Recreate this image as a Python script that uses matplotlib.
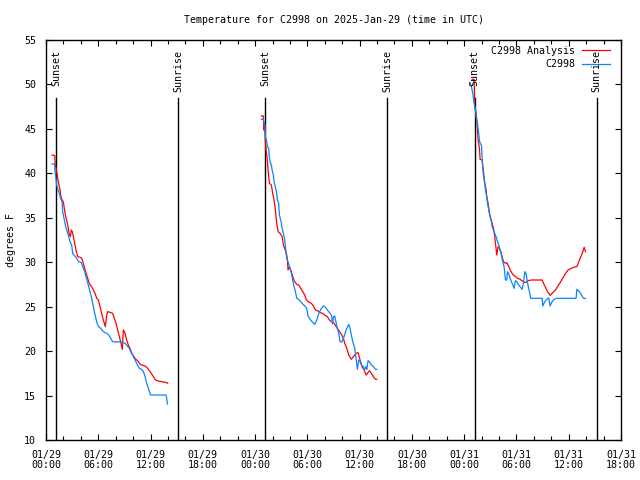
import matplotlib
matplotlib.use("Agg")
import matplotlib.pyplot as plt
from matplotlib.ticker import MultipleLocator

# x values: hours since 2025-01-29 00:00 UTC
title = "Temperature for C2998 on 2025-Jan-29 (time in UTC)"
ylabel = "degrees F"
series_names = ["C2998 Analysis", "C2998"]
series_colors = ["#ff0000", "#0a84ff"]

tick_hours = [0, 6, 12, 18, 24, 30, 36, 42, 48, 54, 60, 66]
tick_labels = ["01/29\n00:00", "01/29\n06:00", "01/29\n12:00", "01/29\n18:00",
               "01/30\n00:00", "01/30\n06:00", "01/30\n12:00", "01/30\n18:00",
               "01/31\n00:00", "01/31\n06:00", "01/31\n12:00", "01/31\n18:00"]

sun_hours = [1.15, 15.15, 25.15, 39.15, 49.2, 63.2]
sun_labels = ["Sunset", "Sunrise", "Sunset", "Sunrise", "Sunset", "Sunrise"]

# --- segment 1 (night of 01/29) ---
an1_h = [0.69, 1.0, 1.07, 1.22, 1.38, 1.49, 1.61, 1.68, 1.84, 1.99, 2.10, 2.22, 2.37, 2.53, 2.64, 2.79,
         2.91, 3.02, 3.14, 3.29, 3.44, 3.64, 3.90, 4.10, 4.29, 4.48, 4.67, 4.90, 5.05, 5.24, 5.43, 5.63,
         5.82, 6.01, 6.20, 6.39, 6.58, 6.81, 6.97, 7.08, 7.35, 7.65, 7.84, 8.04, 8.23, 8.42, 8.61, 8.76,
         8.88, 9.07, 9.26, 9.45, 9.64, 9.84, 10.03, 10.22, 10.41, 10.60, 10.79, 10.98, 11.37, 11.56,
         11.75, 11.94, 12.13, 12.32, 12.51, 12.71, 13.09, 13.47, 13.85, 13.97]
an1_t = [42.06, 42.0, 40.94, 40.19, 39.25, 38.69, 38.12, 37.56, 37.0, 36.81, 36.06, 35.31, 34.75, 34.0,
         33.25, 32.88, 33.63, 33.44, 32.88, 32.13, 31.38, 30.63, 30.55, 30.44, 29.88, 29.13, 28.56,
         27.81, 27.44, 27.25, 26.88, 26.5, 25.94, 25.75, 25.0, 24.25, 23.5, 22.75, 24.06, 24.44, 24.36,
         24.25, 23.69, 23.13, 22.38, 21.63, 20.88, 20.2, 22.38, 22.0, 21.25, 20.69, 20.31, 19.75, 19.45,
         19.19, 19.0, 18.81, 18.55, 18.44, 18.33, 18.18, 17.95, 17.69, 17.43, 17.13, 16.83, 16.68, 16.6,
         16.53, 16.45, 16.38]
ob1_h = [0.69, 1.0, 1.03, 1.15, 1.22, 1.38, 1.53, 1.68, 1.84, 1.91, 2.07, 2.22, 2.37, 2.56, 2.75, 2.95,
         3.06, 3.21, 3.37, 3.52, 3.75, 4.06, 4.21, 4.44, 4.59, 4.75, 4.90, 5.05, 5.20, 5.36, 5.51, 5.67,
         5.89, 6.05, 6.28, 6.50, 6.74, 6.97, 7.2, 7.42, 7.65, 8.11, 8.69, 9.07, 9.34, 9.57, 9.72, 9.95,
         10.22, 10.49, 10.72, 10.98, 11.18, 11.37, 11.56, 11.75, 11.94, 12.02, 13.09, 13.78, 13.85, 13.93]
ob1_t = [41.05, 41.05, 40.19, 39.44, 38.69, 38.13, 37.75, 37.19, 36.81, 35.69, 34.94, 34.19, 33.63,
         33.06, 32.31, 31.94, 31.0, 30.81, 30.63, 30.44, 30.06, 29.95, 29.5, 28.94, 28.38, 27.81, 27.25,
         26.69, 26.13, 25.38, 24.63, 23.88, 23.05, 22.75, 22.56, 22.3, 22.08, 22.0, 21.81, 21.44, 21.06,
         21.03, 21.03, 20.88, 20.58, 20.31, 19.94, 19.56, 19.0, 18.44, 18.06, 17.95, 17.69, 17.13, 16.38,
         15.81, 15.25, 15.06, 15.06, 15.06, 14.69, 14.05]

# --- segment 2 (night of 01/30) ---
an2_h = [24.72, 24.95, 24.99, 25.11, 25.18, 25.26, 25.41, 25.49, 25.64, 25.87, 26.02, 26.18, 26.33,
         26.48, 26.64, 26.87, 27.10, 27.25, 27.40, 27.63, 27.71, 27.78, 27.94, 28.09, 28.32, 28.55,
         28.78, 29.01, 29.24, 29.47, 29.70, 29.85, 30.08, 30.46, 30.69, 30.92, 31.23, 31.46, 31.76,
         31.99, 32.30, 32.53, 32.76, 33.07, 33.30, 33.52, 33.83, 34.14, 34.29, 34.52, 34.75, 35.05,
         35.28, 35.59, 35.82, 36.05, 36.28, 36.51, 36.74, 36.89, 37.12, 37.35, 37.58, 37.81, 37.96]
an2_t = [46.45, 46.45, 44.88, 45.63, 43.56, 42.63, 41.5, 40.38, 38.88, 38.69, 37.75, 37.0, 35.88, 34.38,
         33.44, 33.25, 32.88, 31.94, 31.56, 30.81, 30.25, 29.13, 29.5, 29.13, 28.38, 27.81, 27.51, 27.44,
         27.06, 26.69, 26.31, 25.83, 25.56, 25.38, 25.08, 24.63, 24.51, 24.33, 24.25, 24.06, 23.88, 23.5,
         23.31, 23.13, 22.75, 22.45, 22.0, 21.44, 20.88, 20.31, 19.56, 19.08, 19.38, 19.75, 19.83, 19.0,
         18.25, 17.88, 17.31, 17.5, 17.8, 17.5, 17.13, 16.83, 16.83]
ob2_h = [24.72, 24.95, 25.03, 25.11, 25.18, 25.34, 25.41, 25.56, 25.64, 25.72, 25.87, 25.95, 26.10,
         26.18, 26.33, 26.48, 26.56, 26.71, 26.79, 26.94, 27.02, 27.10, 27.25, 27.40, 27.48, 27.55,
         27.63, 27.78, 28.01, 28.17, 28.32, 28.47, 28.63, 28.78, 29.01, 29.24, 29.47, 29.70, 29.93,
         30.08, 30.31, 30.54, 30.85, 31.08, 31.31, 31.61, 31.84, 32.07, 32.30, 32.53, 32.76, 32.91,
         32.99, 33.14, 33.30, 33.45, 33.60, 33.75, 33.98, 34.21, 34.44, 34.75, 34.90, 35.05, 35.21,
         35.44, 35.59, 35.74, 35.90, 36.05, 36.20, 36.43, 36.59, 36.74, 36.82, 36.97, 37.12, 37.35,
         37.58, 37.81, 37.96]
ob2_t = [46.08, 46.08, 45.63, 45.44, 44.13, 43.56, 43.0, 42.81, 41.88, 41.31, 40.94, 40.38, 39.81,
         39.06, 38.43, 37.75, 37.0, 36.63, 35.31, 34.75, 34.38, 33.81, 33.25, 32.5, 31.75, 31.19, 30.44,
         30.06, 29.31, 28.75, 28.0, 27.25, 26.69, 25.94, 25.83, 25.56, 25.3, 25.08, 24.81, 23.95, 23.58,
         23.31, 23.01, 23.5, 24.25, 24.81, 25.08, 24.93, 24.63, 24.33, 24.06, 23.05, 23.88, 23.95, 23.2,
         22.56, 22.0, 21.06, 21.03, 21.63, 22.38, 23.01, 22.56, 21.81, 21.06, 20.31, 19.19, 17.95, 19.0,
         18.81, 18.44, 18.25, 17.95, 18.25, 17.95, 18.93, 18.81, 18.44, 18.25, 17.95, 17.95]

# --- segment 3 (night of 01/31) ---
an3_h = [48.91, 49.14, 49.22, 49.37, 49.45, 49.52, 49.60, 49.75, 49.83, 50.06, 50.13, 50.21, 50.36,
         50.52, 50.59, 50.75, 50.90, 51.05, 51.21, 51.36, 51.51, 51.59, 51.74, 51.89, 52.05, 52.20,
         52.35, 52.51, 52.74, 52.89, 53.12, 53.27, 53.50, 53.65, 53.88, 54.11, 54.42, 54.80, 55.03,
         55.34, 55.72, 56.95, 57.10, 57.33, 57.56, 57.86, 58.17, 58.48, 58.71, 59.01, 59.24, 59.47,
         59.70, 59.93, 60.24, 60.54, 60.93, 61.16, 61.39, 61.62, 61.77, 61.92]
an3_t = [50.58, 50.58, 47.5, 46.75, 46.0, 44.88, 43.75, 42.81, 41.57, 41.5, 40.75, 39.81, 38.88, 38.13,
         37.38, 36.63, 35.5, 34.94, 34.38, 33.81, 32.88, 32.13, 30.81, 31.75, 31.56, 31.19, 30.63, 30.06,
         29.88, 29.95, 29.5, 29.13, 28.75, 28.56, 28.38, 28.19, 28.08, 27.81, 27.7, 27.93, 28.0, 28.0,
         27.63, 27.18, 26.69, 26.28, 26.58, 26.88, 27.25, 27.7, 28.08, 28.45, 28.83, 29.13, 29.28, 29.43,
         29.5, 30.06, 30.63, 31.19, 31.68, 31.19]
ob3_h = [48.68, 48.83, 48.99, 49.06, 49.14, 49.29, 49.37, 49.52, 49.60, 49.75, 49.83, 49.98, 50.06,
         50.13, 50.21, 50.36, 50.44, 50.59, 50.67, 50.82, 50.98, 51.13, 51.21, 51.36, 51.51, 51.66,
         51.82, 51.97, 52.12, 52.28, 52.35, 52.43, 52.58, 52.66, 52.74, 52.89, 52.97, 53.12, 53.27,
         53.42, 53.58, 53.73, 53.88, 54.04, 54.19, 54.42, 54.65, 54.80, 54.96, 55.11, 55.19, 55.34,
         55.49, 55.64, 56.03, 56.95, 57.02, 57.25, 57.48, 57.71, 57.86, 58.09, 58.32, 58.63, 60.85,
         60.93, 61.23, 61.46, 61.69, 61.92]
ob3_t = [50.13, 49.75, 49.0, 48.44, 47.88, 47.13, 46.38, 45.63, 45.06, 43.75, 43.38, 43.19, 41.87, 40.75,
         40.38, 38.88, 38.13, 37.38, 36.63, 35.88, 35.13, 34.56, 34.0, 33.63, 33.25, 32.88, 32.31, 31.94,
         31.38, 30.81, 30.44, 30.06, 29.5, 28.75, 28.0, 28.0, 28.94, 28.68, 28.19, 27.81, 27.44, 27.06,
         27.93, 27.81, 27.55, 27.25, 26.95, 27.63, 28.94, 28.68, 28.19, 27.32, 26.69, 25.94, 25.94, 25.94,
         25.08, 25.56, 25.83, 25.98, 25.08, 25.56, 25.83, 25.94, 25.94, 26.95, 26.69, 26.31, 25.94, 25.94]

analysis_segments = [(an1_h, an1_t), (an2_h, an2_t), (an3_h, an3_t)]
obs_segments = [(ob1_h, ob1_t), (ob2_h, ob2_t), (ob3_h, ob3_t)]

FONT = "DejaVu Sans Mono"
FS = 7.2
plt.rcParams["font.family"] = [FONT]
plt.rcParams["font.size"] = FS

fig = plt.figure(figsize=(6.4, 4.8), dpi=100)
ax = fig.add_axes([46 / 640, 40 / 480, 575 / 640, 400 / 480])

lw = 0.9
for i, (h, t) in enumerate(analysis_segments):
    ax.plot(h, t, color=series_colors[0], lw=lw, label=series_names[0] if i == 0 else None, zorder=3)
for i, (h, t) in enumerate(obs_segments):
    ax.plot(h, t, color=series_colors[1], lw=lw, label=series_names[1] if i == 0 else None, zorder=3)

for x, lab in zip(sun_hours, sun_labels):
    ax.axvline(x, ymin=0, ymax=0.855, color="black", lw=1.0, zorder=2)
    ax.text(x, 0.975, lab, transform=ax.get_xaxis_transform(), rotation=90,
            ha="center", va="top", fontsize=FS, family=FONT)

ax.set_xlim(0, 66)
ax.set_ylim(10, 55)
ax.set_xticks(tick_hours)
ax.set_xticklabels(tick_labels, linespacing=1.05)
ax.xaxis.set_minor_locator(MultipleLocator(2))
ax.yaxis.set_major_locator(MultipleLocator(5))
ax.tick_params(axis="both", which="both", direction="in", top=True, right=True,
               width=0.8, color="black")
ax.tick_params(axis="x", which="major", length=4, pad=7)
ax.tick_params(axis="x", which="minor", length=3)
ax.tick_params(axis="y", which="major", length=4, pad=7)
for s in ax.spines.values():
    s.set_linewidth(1.0)

ax.set_title(title, fontsize=FS, pad=12)
ax.set_ylabel(ylabel, fontsize=FS)
ax.yaxis.set_label_coords(-0.053, 0.5)

leg = ax.legend(loc="upper right", bbox_to_anchor=(0.981, 0.985), frameon=False,
                markerfirst=False, handlelength=2.8, handletextpad=0.7,
                labelspacing=0.35, borderpad=0, borderaxespad=0, fontsize=FS)

fig.savefig("out.png", dpi=100)
